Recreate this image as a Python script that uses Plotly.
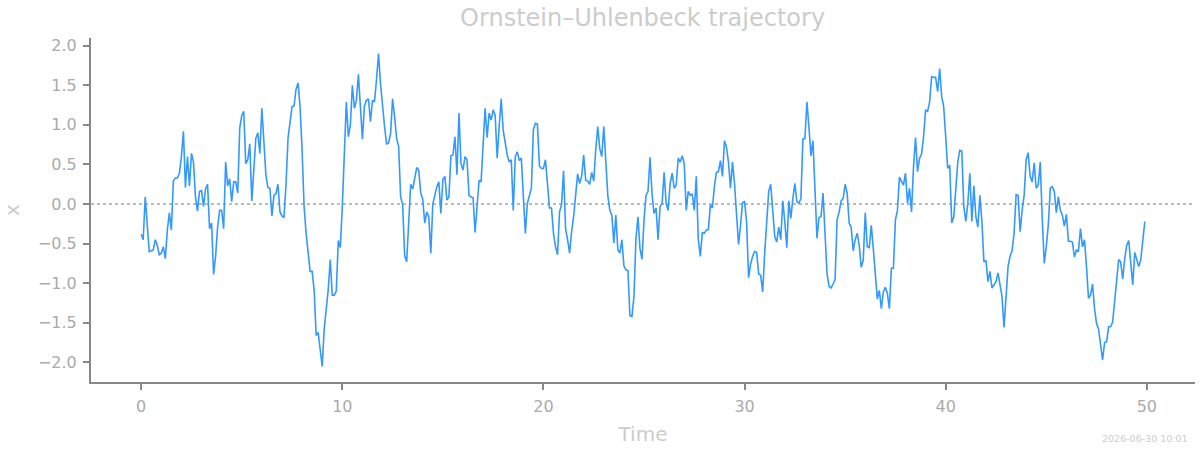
import plotly.graph_objects as go

# Ornstein–Uhlenbeck trajectory, sampled every 0.1 time units starting at t=0
x_part1 = [
    -0.38, -0.45, 0.09, -0.25, -0.60, -0.59, -0.58, -0.45, -0.52, -0.64,
    -0.62, -0.54, -0.69, -0.33, -0.11, -0.33, 0.29, 0.33, 0.33, 0.39,
    0.60, 0.92, 0.21, 0.60, 0.23, 0.64, 0.53, 0.09, -0.09, 0.16,
    0.17, -0.03, 0.19, 0.25, -0.31, -0.24, -0.89, -0.66, -0.29, -0.08,
    -0.08, -0.31, 0.53, 0.23, 0.32, 0.03, 0.28, 0.28, 0.14, 0.96,
    1.12, 1.17, 0.51, 0.56, 0.76, 0.04, 0.47, 0.83, 0.90, 0.64,
    1.21, 0.81, 0.37, 0.21, 0.20, -0.15, 0.11, 0.13, 0.25, -0.10,
    -0.15, -0.17, 0.24, 0.83, 1.03, 1.23, 1.24, 1.45, 1.53, 1.23,
    0.68, -0.03, -0.37, -0.66, -0.85, -0.85, -1.09, -1.66, -1.62, -1.84,
    -2.05, -1.58, -1.36, -1.08, -0.70, -1.15, -1.15, -1.10, -0.46, -0.55,
]
x_part2 = [
    -0.03, 0.68, 1.29, 0.85, 1.00, 1.50, 1.21, 1.31, 1.64, 1.23,
    0.82, 1.24, 1.31, 1.33, 1.04, 1.31, 1.29, 1.57, 1.90, 1.52,
    1.23, 0.98, 0.76, 0.77, 0.89, 1.33, 1.10, 0.83, 0.73, 0.09,
    -0.01, -0.65, -0.73, -0.29, 0.25, 0.19, 0.35, 0.46, 0.43, 0.14,
    0.06, -0.24, -0.10, -0.16, -0.62, 0.00, 0.11, 0.22, 0.28, -0.12,
    0.31, 0.35, 0.05, 0.09, 0.61, 0.62, 0.85, 0.37, 1.15, 0.51,
    0.43, 0.60, 0.56, 0.11, 0.09, 0.08, -0.36, -0.03, 0.30, 0.28,
    0.85, 1.21, 0.84, 1.15, 1.06, 1.19, 1.12, 0.58, 0.98, 1.33,
    0.93, 0.74, 0.62, 0.53, 0.56, -0.08, 0.60, 0.66, 0.55, 0.58,
    0.09, -0.37, 0.01, 0.09, 0.20, 0.94, 1.02, 1.01, 0.48, 0.45,
]
x_part3 = [
    0.45, 0.56, 0.30, -0.05, -0.05, -0.37, -0.54, -0.64, -0.10, -0.01,
    0.42, -0.31, -0.45, -0.62, -0.35, -0.16, 0.11, 0.38, 0.26, 0.35,
    0.62, 0.30, 0.29, 0.25, 0.40, 0.29, 0.68, 0.98, 0.70, 0.60,
    0.98, 0.51, 0.11, -0.08, -0.14, -0.49, -0.14, -0.58, -0.62, -0.45,
    -0.78, -0.83, -0.84, -1.41, -1.42, -1.17, -0.43, -0.16, -0.56, -0.70,
    -0.20, 0.11, 0.16, 0.59, 0.13, -0.12, -0.05, -0.45, -0.03, 0.01,
    0.40, 0.01, -0.08, 0.26, 0.39, 0.20, 0.24, 0.58, 0.53, 0.61,
    0.51, -0.08, 0.16, 0.11, 0.13, -0.08, 0.35, -0.45, -0.66, -0.36,
    -0.37, -0.33, -0.32, -0.01, -0.05, 0.22, 0.40, 0.41, 0.55, 0.35,
    0.80, 0.72, 0.53, 0.20, 0.53, 0.26, -0.16, -0.51, -0.27, 0.02,
]
x_part4 = [
    0.03, -0.22, -0.93, -0.76, -0.66, -0.60, -0.61, -0.88, -0.90, -1.11,
    -0.62, -0.16, 0.16, 0.25, -0.12, -0.41, -0.48, -0.29, -0.45, 0.04,
    -0.22, -0.55, 0.04, -0.18, 0.07, 0.26, 0.03, 0.01, 0.07, 0.82,
    0.83, 1.29, 0.98, 0.61, 0.80, 0.20, -0.43, -0.17, -0.16, 0.14,
    -0.37, -0.88, -1.04, -1.06, -1.01, -0.95, -0.20, -0.10, 0.04, 0.07,
    0.25, 0.14, -0.24, -0.29, -0.59, -0.45, -0.37, -0.52, -0.80, -0.71,
    -0.11, -0.54, -0.55, -0.27, -0.56, -0.83, -1.20, -1.09, -1.32, -1.11,
    -1.05, -1.13, -1.32, -0.81, -0.81, -0.20, -0.08, 0.34, 0.28, 0.24,
    0.39, 0.01, 0.20, -0.10, 0.47, 0.84, 0.41, 0.58, 0.63, 0.85,
    1.19, 1.17, 1.29, 1.61, 1.60, 1.60, 1.42, 1.71, 1.36, 1.23,
]
x_part5 = [
    0.85, 0.45, 0.49, -0.24, -0.16, 0.22, 0.53, 0.68, 0.67, -0.03,
    -0.22, 0.01, 0.39, -0.22, 0.23, -0.16, -0.29, 0.11, -0.22, -0.73,
    -0.71, -0.98, -0.85, -1.06, -1.02, -0.98, -0.87, -1.00, -1.17, -1.56,
    -1.12, -0.79, -0.66, -0.59, -0.37, 0.12, 0.11, -0.35, -0.08, 0.11,
    0.56, 0.65, 0.35, 0.28, 0.52, 0.20, 0.24, 0.53, -0.18, -0.75,
    -0.54, -0.27, 0.20, 0.22, 0.16, -0.11, 0.09, -0.08, -0.14, -0.28,
    -0.13, -0.47, -0.47, -0.48, -0.67, -0.58, -0.59, -0.31, -0.54, -0.45,
    -0.79, -1.19, -1.15, -1.01, -1.32, -1.51, -1.58, -1.82, -1.97, -1.75,
    -1.74, -1.55, -1.55, -1.49, -1.25, -0.94, -0.70, -0.73, -0.95, -0.69,
    -0.52, -0.46, -0.79, -1.02, -0.61, -0.69, -0.79, -0.70, -0.45, -0.22,
]
x_values = x_part1 + x_part2 + x_part3 + x_part4 + x_part5

t_start = 0.0
t_step = 0.1

x_tick_vals = [0, 10, 20, 30, 40, 50]
y_tick_vals = [-2.0, -1.5, -1.0, -0.5, 0.0, 0.5, 1.0, 1.5, 2.0]

title_text = "Ornstein–Uhlenbeck trajectory"
x_label = "Time"
y_label = "x"
footer_text = "2026-06-30 10:01"

FONT = "DejaVu Sans, Verdana, sans-serif"
TICK_COLOR = "#aaaaaa"
AXIS_COLOR = "#888888"
LIGHT = "#cccccc"

fig = go.Figure()
fig.add_trace(go.Scatter(
    y=x_values, x0=t_start, dx=t_step,
    mode="lines",
    line=dict(color="#3399ff", width=1.6),
    hoverinfo="skip",
    showlegend=False,
))

fig.add_shape(type="line", xref="paper", x0=0, x1=1, yref="y", y0=0, y1=0,
              line=dict(color="#777777", width=1, dash="dot"), layer="below")

fig.update_layout(
    width=1200, height=450,
    margin=dict(l=91, r=5, t=38, b=68),
    paper_bgcolor="white", plot_bgcolor="white",
    font=dict(family=FONT, color=TICK_COLOR),
    title=dict(text=title_text, x=0.5355, xanchor="center", y=0.962, yanchor="middle",
               font=dict(family=FONT, size=24, color=LIGHT)),
    xaxis=dict(
        range=[-2.495, 52.395],
        tickvals=x_tick_vals,
        showgrid=False, zeroline=False,
        showline=True, linecolor=AXIS_COLOR, linewidth=2,
        ticks="outside", ticklen=6, tickwidth=1.5, tickcolor=AXIS_COLOR,
        ticklabelstandoff=3,
        tickfont=dict(family=FONT, size=16, color=TICK_COLOR),
        title=dict(text=x_label, font=dict(family=FONT, size=20, color=LIGHT), standoff=12),
    ),
    yaxis=dict(
        range=[-2.2475, 2.0975],
        tickvals=y_tick_vals,
        tickformat=".1f",
        showgrid=False, zeroline=False,
        showline=True, linecolor=AXIS_COLOR, linewidth=2,
        ticks="outside", ticklen=6, tickwidth=1.5, tickcolor=AXIS_COLOR,
        ticklabelstandoff=3,
        tickfont=dict(family=FONT, size=16, color=TICK_COLOR),
        title=dict(text=y_label, font=dict(family=FONT, size=20, color=LIGHT), standoff=16),
    ),
    annotations=[dict(
        text=footer_text, xref="paper", yref="paper",
        x=1.0, y=0, xanchor="right", yanchor="bottom", yshift=-64, xshift=-5,
        showarrow=False, font=dict(family=FONT, size=9.5, color=LIGHT),
    )],
)

fig.write_html("out.html")
